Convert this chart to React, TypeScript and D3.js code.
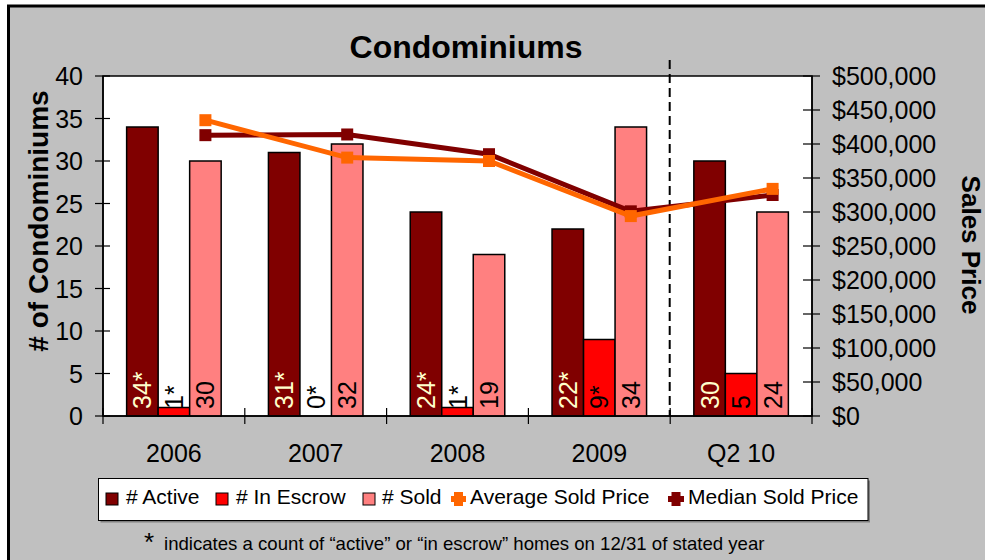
import React from "react";
import * as d3 from "d3";

const categories = ["2006", "2007", "2008", "2009", "Q2 10"];
const activeValues = [34, 31, 24, 22, 30];
const escrowValues = [1, 0, 1, 9, 5];
const soldValues = [30, 32, 19, 34, 24];
const activeLabels = ["34*", "31*", "24*", "22*", "30"];
const escrowLabels = ["1*", "0*", "1*", "9*", "5"];
const soldLabels = ["30", "32", "19", "34", "24"];
const averagePrice = [435000, 380000, 375000, 294000, 334000];
const medianPrice = [413000, 414000, 385000, 301000, 325000];
const leftTicks = [0, 5, 10, 15, 20, 25, 30, 35, 40];
const rightTicks = [0, 50000, 100000, 150000, 200000, 250000, 300000, 350000, 400000, 450000, 500000];
const seriesKeys = ["active", "escrow", "sold"];

const FONT = "'Liberation Sans', Arial, sans-serif";
const C_ACTIVE = "#800000";
const C_ESCROW = "#FF0000";
const C_SOLD = "#FF8080";
const C_AVG = "#FF6600";
const C_MED = "#800000";

export default function App() {
  const L = 103, R = 812, T = 76, B = 416;
  const x = d3.scaleBand<string>().domain(categories).range([L, R]).paddingInner(0).paddingOuter(0);
  const xi = d3.scaleBand<string>().domain(seriesKeys).range([0, x.bandwidth()]).paddingInner(0).paddingOuter(0.75);
  const yL = d3.scaleLinear().domain([0, 40]).range([B, T]);
  const yR = d3.scaleLinear().domain([0, 500000]).range([B, T]);
  const bw = xi.bandwidth();

  const series = [
    { key: "active", values: activeValues, labels: activeLabels, fill: C_ACTIVE, text: "#FFFFCC" },
    { key: "escrow", values: escrowValues, labels: escrowLabels, fill: C_ESCROW, text: "#000000" },
    { key: "sold", values: soldValues, labels: soldLabels, fill: C_SOLD, text: "#000000" },
  ];

  const px = (i: number) => (x(categories[i]) as number) + (xi("sold") as number) + bw / 2;
  const line = (vals: number[]) =>
    d3.line<number>().x((_, i) => px(i)).y((v) => yR(v))(vals) as string;

  const fmt = d3.format(",");
  const dashX = (x("Q2 10") as number) - 0.5;

  return (
    <svg width={985} height={560} style={{ position: "absolute", left: 0, top: 0 }} fontFamily={FONT}>
      <rect x={0} y={0} width={985} height={560} fill="#ffffff" />
      <rect x={8.5} y={6} width={990} height={570} fill="#C0C0C0" stroke="#000" strokeWidth={3} />

      {/* title */}
      <text x={466} y={58} textAnchor="middle" fontSize={32} fontWeight="bold" fill="#000">Condominiums</text>

      {/* plot area */}
      <rect x={L} y={T} width={R - L} height={B - T} fill="#fff" stroke="#000" strokeWidth={1.5} />

      {/* bars */}
      {series.map((s) =>
        s.values.map((v, i) => {
          const bx = (x(categories[i]) as number) + (xi(s.key) as number);
          const h = B - yL(v);
          return h > 0 ? (
            <rect key={s.key + i} x={bx} y={yL(v)} width={bw} height={h} fill={s.fill} stroke="#000" strokeWidth={1.5} />
          ) : null;
        })
      )}

      {/* bar labels */}
      {series.map((s) =>
        s.labels.map((lab, i) => {
          const cx = (x(categories[i]) as number) + (xi(s.key) as number) + bw / 2;
          const by = 409;
          return (
            <text key={"l" + s.key + i} transform={`translate(${cx},${by}) rotate(-90)`} dy="0.36em" textAnchor="start" fontSize={25} fill={s.text}>
              {lab}
            </text>
          );
        })
      )}

      {/* dashed separator */}
      <line x1={dashX} x2={dashX} y1={60} y2={B} stroke="#000" strokeWidth={2} strokeDasharray="9,5" />

      {/* lines */}
      <path d={line(medianPrice)} fill="none" stroke={C_MED} strokeWidth={5} />
      {medianPrice.map((v, i) => (
        <rect key={"m" + i} x={px(i) - 6} y={yR(v) - 6} width={12} height={12} fill={C_MED} />
      ))}
      <path d={line(averagePrice)} fill="none" stroke={C_AVG} strokeWidth={5} />
      {averagePrice.map((v, i) => (
        <rect key={"a" + i} x={px(i) - 6} y={yR(v) - 6} width={12} height={12} fill={C_AVG} />
      ))}

      {/* left axis */}
      <line x1={L} x2={L} y1={T} y2={B} stroke="#000" strokeWidth={1.5} />
      {leftTicks.map((t) => (
        <g key={"lt" + t}>
          <line x1={95} x2={110} y1={yL(t)} y2={yL(t)} stroke="#000" strokeWidth={1.2} />
          <text x={83} y={yL(t)} dy="0.36em" textAnchor="end" fontSize={25} fill="#000">{t}</text>
        </g>
      ))}

      {/* right axis */}
      <line x1={R} x2={R} y1={T} y2={B} stroke="#000" strokeWidth={1.5} />
      {rightTicks.map((t) => (
        <g key={"rt" + t}>
          <line x1={803} x2={820} y1={yR(t)} y2={yR(t)} stroke="#000" strokeWidth={1.2} />
          <text x={832} y={yR(t)} dy="0.36em" textAnchor="start" fontSize={25} fill="#000">{"$" + fmt(t)}</text>
        </g>
      ))}

      {/* x axis */}
      <line x1={L} x2={R} y1={B} y2={B} stroke="#000" strokeWidth={1.5} />
      {[...categories.map((c) => x(c) as number), R].map((tx, i) => (
        <line key={"xt" + i} x1={tx} x2={tx} y1={408} y2={424} stroke="#000" strokeWidth={1.2} />
      ))}
      {categories.map((c) => (
        <text key={"xl" + c} x={(x(c) as number) + x.bandwidth() / 2} y={462} textAnchor="middle" fontSize={25} fill="#000">{c}</text>
      ))}

      {/* axis titles */}
      <text transform="translate(48,221) rotate(-90)" textAnchor="middle" fontSize={28} fontWeight="bold" fill="#000"># of Condominiums</text>
      <text transform="translate(962,245) rotate(90)" textAnchor="middle" fontSize={26} fontWeight="bold" fill="#000">Sales Price</text>

      {/* legend */}
      <rect x={100.5} y={480.5} width={769.5} height={42} fill="#808080" />
      <rect x={98.5} y={478.5} width={769.5} height={42} fill="#fff" stroke="#000" strokeWidth={1} />
      <rect x={106} y={493} width={12} height={12} fill={C_ACTIVE} stroke="#000" strokeWidth={1} />
      <text x={126} y={504} fontSize={21} fill="#000"># Active</text>
      <rect x={216} y={493} width={12} height={12} fill={C_ESCROW} stroke="#000" strokeWidth={1} />
      <text x={236} y={504} fontSize={21} fill="#000"># In Escrow</text>
      <rect x={363} y={493} width={12} height={12} fill={C_SOLD} stroke="#000" strokeWidth={1} />
      <text x={382} y={504} fontSize={21} fill="#000"># Sold</text>
      <rect x={451} y={496} width={15} height={6} fill={C_AVG} />
      <rect x={454} y={492} width={9} height={14} fill={C_AVG} />
      <text x={470} y={504} fontSize={21} fill="#000">Average Sold Price</text>
      <rect x={668} y={496} width={16} height={6} fill={C_MED} />
      <rect x={671.5} y={492} width={9} height={14} fill={C_MED} />
      <text x={688} y={504} fontSize={21} fill="#000">Median Sold Price</text>

      {/* footnote */}
      <text x={144} y={551} fontSize={26} fill="#000">*</text>
      <text x={164} y={550} fontSize={18.6} fill="#000">indicates a count of “active” or “in escrow” homes on 12/31 of stated year</text>
    </svg>
  );
}
